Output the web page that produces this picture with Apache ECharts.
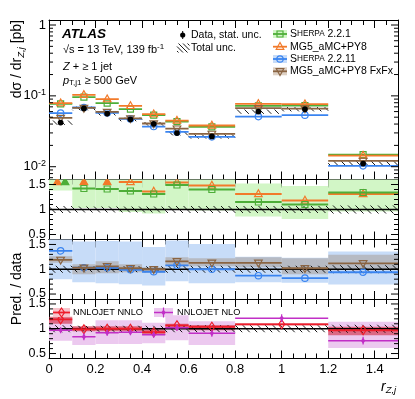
<!DOCTYPE html>
<html><head><meta charset="utf-8">
<script src="https://cdn.jsdelivr.net/npm/echarts@6/dist/echarts.min.js"></script>
<style>html,body{margin:0;padding:0;background:#fff}#c{width:415px;height:399px}</style>
</head><body><div id="c"></div>
<script>
// ---------------- data ----------------
const binEdges = [0, 0.1, 0.2, 0.3, 0.4, 0.5, 0.6, 0.8, 1.0, 1.2, 1.5];
const nnlojetEdges = [0, 0.1, 0.2, 0.3, 0.4, 0.5, 0.6, 0.8, 1.2, 1.5];

const dataXsec = [0.0420, 0.0665, 0.0562, 0.0466, 0.0403, 0.0298, 0.0268, 0.0600, 0.0649, 0.01107];
const dataStatRel = [0.03, 0.02, 0.02, 0.02, 0.02, 0.03, 0.03, 0.02, 0.02, 0.04];
const dataTotalRel = [0.07, 0.06, 0.06, 0.06, 0.06, 0.07, 0.07, 0.07, 0.07, 0.08];

const sherpa221Xsec = [0.0771, 0.0959, 0.0789, 0.0649, 0.0535, 0.0434, 0.0365, 0.0722, 0.0730, 0.01483];
const mg5Xsec = [0.0789, 0.1033, 0.0898, 0.0722, 0.0552, 0.0448, 0.0382, 0.0771, 0.0764, 0.01436];
const sherpa2211Xsec = [0.0570, 0.0685, 0.0575, 0.0473, 0.0369, 0.0310, 0.0264, 0.0510, 0.0534, 0.01028];
const fxfxXsec = [0.0489, 0.0675, 0.0594, 0.0481, 0.0407, 0.0345, 0.0291, 0.0670, 0.0662, 0.0121];

// ratio panel 1
const sherpa221Ratio = [1.83, 1.42, 1.41, 1.37, 1.31, 1.49, 1.40, 1.15, 1.10, 1.34];
const sherpa221Lo = [1.38, 1.03, 1.03, 0.95, 0.92, 1.00, 0.98, 0.86, 0.81, 0.96];
const sherpa221Hi = [1.95, 1.85, 1.85, 1.80, 1.75, 1.90, 1.75, 1.52, 1.47, 1.62];
const mg5Ratio = [1.88, 1.65, 1.63, 1.55, 1.36, 1.54, 1.48, 1.31, 1.18, 1.31];
// ratio panel 2
const sherpa2211Ratio = [1.37, 1.03, 1.03, 0.99, 0.95, 1.08, 1.00, 0.87, 0.82, 0.94];
const sherpa2211Lo = [0.80, 0.74, 0.72, 0.70, 0.67, 0.76, 0.72, 0.74, 0.73, 0.69];
const sherpa2211Hi = [1.70, 1.56, 1.57, 1.56, 1.45, 1.58, 1.51, 1.25, 1.23, 1.36];
const fxfxRatio = [1.19, 1.03, 1.06, 1.02, 1.00, 1.16, 1.13, 1.13, 1.02, 1.12];
const fxfxLo = [1.13, 0.90, 0.92, 0.94, 0.93, 1.06, 1.06, 1.04, 0.90, 0.99];
const fxfxHi = [1.26, 1.10, 1.16, 1.10, 1.04, 1.24, 1.22, 1.24, 1.22, 1.29];
// ratio panel 3 (NNLOJET binning)
const nnloRatio = [1.19, 0.99, 1.00, 1.00, 0.93, 1.07, 1.04, 1.09, 0.97];
const nnloLo = [1.10, 0.95, 0.95, 0.95, 0.88, 1.00, 0.97, 1.07, 0.87];
const nnloHi = [1.24, 1.05, 1.05, 1.05, 0.99, 1.10, 1.07, 1.11, 1.04];
const nloRatio = [0.97, 0.84, 0.92, 0.93, 0.88, 1.02, 0.91, 1.21, 0.76];
const nloStat = [0.06, 0.07, 0.06, 0.06, 0.06, 0.06, 0.07, 0.08, 0.08];
const nloLo = [0.76, 0.67, 0.69, 0.69, 0.71, 0.77, 0.67, null, 0.61];
const nloHi = [1.22, 1.04, 1.17, 1.17, 1.12, 1.27, 1.15, null, 1.14];

// tick labels
const xTickValues = [0, 0.2, 0.4, 0.6, 0.8, 1.0, 1.2, 1.4];
const xTickLabels = ['0', '0.2', '0.4', '0.6', '0.8', '1', '1.2', '1.4'];
const mainTickValues = [0.01, 0.1, 1];
const mainTickLabels = ['10^-2', '10^-1', '1'];
const ratioTickValues = [0.5, 1, 1.5];
const ratioTickLabels = ['0.5', '1', '1.5'];

// ---------------- style / layout ----------------
const FONT = '"Liberation Sans", Arial, Helvetica, sans-serif';
const C = {
  green: '#4dae38', greenBand: '#d2f6c6',
  orange: '#f27a2a',
  blue: '#3a84f0', blueBand: '#c7dcf8',
  brown: '#8a6442', brownBand: 'rgba(150,118,88,0.33)', brownLeg: '#ddd0c3',
  red: '#ee1c2a', redBand: 'rgba(205,25,45,0.55)', redLeg: '#f7c4cc',
  purple: '#c12fc6', purpleBand: '#ecc9ef'
};
const XMIN = 0, XMAX = 1.5;
const YMAIN = [0.0066, 1.177];
const YRAT = [0.4, 1.6];
const tops = [20, 179.5, 239.5, 299];
const heights = [159.5, 60, 59.5, 59.5];

function marker(kind, cx, cy, color, filled) {
  const st = { stroke: color, lineWidth: 1.2, fill: filled ? color : 'none' };
  switch (kind) {
    case 'square': return { type: 'rect', shape: { x: cx - 3, y: cy - 3, width: 6, height: 6 }, style: st };
    case 'circle': return { type: 'circle', shape: { cx, cy, r: 3.2 }, style: st };
    case 'triUp': return { type: 'polygon', shape: { points: [[cx, cy - 4.2], [cx - 3.8, cy + 2.6], [cx + 3.8, cy + 2.6]] }, style: st };
    case 'triDown': return { type: 'polygon', shape: { points: [[cx, cy + 4.2], [cx - 3.8, cy - 2.6], [cx + 3.8, cy - 2.6]] }, style: st };
    case 'diamond': return { type: 'polygon', shape: { points: [[cx, cy - 4.5], [cx + 3, cy], [cx, cy + 4.5], [cx - 3, cy]] }, style: st };
    case 'sdiamond': return { type: 'polygon', shape: { points: [[cx, cy - 3], [cx + 2.2, cy], [cx, cy + 3], [cx - 2.2, cy]] }, style: { fill: color } };
    case 'dot': return { type: 'circle', shape: { cx, cy, r: 2.9 }, style: { fill: color } };
  }
  return null;
}

function binItems(edges, cols) {
  const out = [];
  for (let i = 0; i < edges.length - 1; i++) {
    const row = [edges[i], edges[i + 1]];
    let ok = true;
    for (const c of cols) { if (c[i] == null) ok = false; row.push(c[i]); }
    row.push(i);
    if (ok) out.push(row);
  }
  return out;
}

function bandSeries(gi, edges, lo, hi, fill, z) {
  return {
    type: 'custom', xAxisIndex: gi * 2, yAxisIndex: gi * 2, clip: true, silent: true, z,
    data: binItems(edges, [lo, hi]), encode: { x: [0, 1], y: [2, 3] },
    renderItem(p, api) {
      const a = api.coord([api.value(0), api.value(3)]);
      const b = api.coord([api.value(1), api.value(2)]);
      return { type: 'rect', shape: { x: a[0], y: a[1], width: b[0] - a[0], height: b[1] - a[1] }, style: { fill } };
    }
  };
}

function hatchLines(x0, y0, w, h, step) {
  const lines = [];
  const cMin = Math.floor((y0 - (x0 + w)) / step) * step, cMax = y0 + h - x0;
  for (let c = cMin; c <= cMax; c += step) {
    const xa = Math.max(x0, y0 - c), xb = Math.min(x0 + w, y0 + h - c);
    if (xb > xa) lines.push({ type: 'line', shape: { x1: xa, y1: xa + c, x2: xb, y2: xb + c }, style: { stroke: '#000', lineWidth: 0.9 } });
  }
  return lines;
}

function hatchSeries(gi, edges, lo, hi, z) {
  return {
    type: 'custom', xAxisIndex: gi * 2, yAxisIndex: gi * 2, clip: true, silent: true, z,
    data: binItems(edges, [lo, hi]), encode: { x: [0, 1], y: [2, 3] },
    renderItem(p, api) {
      const a = api.coord([api.value(0), api.value(3)]);
      const b = api.coord([api.value(1), api.value(2)]);
      return { type: 'group', children: hatchLines(a[0], a[1], b[0] - a[0], b[1] - a[1], 7.5) };
    }
  };
}

function lineSeries(gi, edges, vals, color, mk, z, opt) {
  opt = opt || {};
  const err = opt.err || vals.map(() => 0);
  return {
    type: 'custom', xAxisIndex: gi * 2, yAxisIndex: gi * 2, clip: true, silent: true, z,
    data: binItems(edges, [vals, err]), encode: { x: [0, 1], y: 2 },
    renderItem(p, api) {
      const x0 = api.value(0), x1 = api.value(1), v = api.value(2), e = api.value(3), i = api.value(4);
      const xc = (x0 + x1) / 2, ch = [];
      if (opt.top != null && v > opt.top) {
        // out-of-range indicator: filled triangle near the top edge
        const dx = (opt.pair && opt.pair[i] > opt.top) ? opt.pairDx : 0;
        const q = api.coord([xc + dx, opt.arrowAt]);
        ch.push(marker('triUp', q[0], q[1], color, true));
        return { type: 'group', children: ch };
      }
      const a = api.coord([x0, v]), b = api.coord([x1, v]), c = api.coord([xc, v]);
      if (opt.lw !== 0) ch.push({ type: 'line', shape: { x1: a[0], y1: a[1], x2: b[0], y2: b[1] }, style: { stroke: color, lineWidth: opt.lw || 1.8 } });
      if (e > 0) {
        const u = api.coord([xc, v + e]), d = api.coord([xc, v - e]);
        ch.push({ type: 'line', shape: { x1: u[0], y1: u[1], x2: d[0], y2: d[1] }, style: { stroke: color, lineWidth: 1.2 } });
      }
      if (mk) ch.push(marker(mk, c[0], c[1], color, opt.filled));
      return { type: 'group', children: ch };
    }
  };
}

// y ticks on both frame sides
function yTickSeries(gi, majors, minors) {
  const data = majors.map(v => [0, v, 7]).concat(minors.map(v => [0, v, 4]));
  return {
    type: 'custom', xAxisIndex: gi * 2, yAxisIndex: gi * 2, silent: true, z: 30,
    data, encode: { x: 0, y: 1 },
    renderItem(p, api) {
      const v = api.value(1), len = api.value(2);
      const a = api.coord([XMIN, v]), b = api.coord([XMAX, v]);
      const st = { stroke: '#000', lineWidth: 1 };
      return { type: 'group', children: [
        { type: 'line', shape: { x1: a[0], y1: a[1], x2: a[0] + len, y2: a[1] }, style: st },
        { type: 'line', shape: { x1: b[0], y1: b[1], x2: b[0] - len, y2: b[1] }, style: st }
      ] };
    }
  };
}

// ---- derived helpers for tick positions ----
const mainMinor = [];
for (let e = -3; e <= 0; e++) for (let m = 2; m <= 9; m++) {
  const v = m * Math.pow(10, e);
  if (v > YMAIN[0] && v < YMAIN[1]) mainMinor.push(v);
}
const ratioMinor = [];
for (let k = 5; k <= 15; k++) {
  const v = k / 10;
  if (!ratioTickValues.some(t => Math.abs(t - v) < 1e-6)) ratioMinor.push(v);
}

// ---- axes ----
const axStyle = { color: '#000', width: 1 };
function xAxisDef(gi, pos) {
  const showLab = gi === 3 && pos === 'bottom';
  return {
    gridIndex: gi, type: 'value', min: XMIN, max: XMAX, interval: 0.2, position: pos,
    axisLine: { show: true, onZero: false, lineStyle: axStyle },
    axisTick: { show: true, inside: true, length: 8, lineStyle: axStyle },
    minorTick: { show: true, splitNumber: 4, length: 5, lineStyle: axStyle },
    splitLine: { show: false },
    axisLabel: showLab ? {
      show: true, fontSize: 13, color: '#000', fontFamily: FONT, margin: 4,
      formatter: v => { const i = xTickValues.findIndex(t => Math.abs(t - v) < 1e-6); return i >= 0 ? xTickLabels[i] : ''; }
    } : { show: false }
  };
}
function mainFmt(v) {
  const e = Math.log10(v);
  const i = mainTickValues.findIndex(t => Math.abs(Math.log10(t) - e) < 1e-3);
  if (i < 0) return '';
  const s = mainTickLabels[i];
  const k = s.indexOf('^');
  return k < 0 ? s : s.slice(0, k) + '{sup|' + s.slice(k + 1) + '}';
}
function yAxisDef(gi, pos) {
  const main = gi === 0;
  const base = {
    gridIndex: gi, position: pos,
    axisLine: { show: true, onZero: false, lineStyle: axStyle },
    axisTick: { show: false }, minorTick: { show: false }, splitLine: { show: false }
  };
  if (main) {
    Object.assign(base, { type: 'log', logBase: 10, min: YMAIN[0], max: YMAIN[1] });
  } else {
    Object.assign(base, { type: 'value', min: YRAT[0], max: YRAT[1], interval: 0.1 });
  }
  if (pos === 'left' && main) {
    base.axisLabel = {
      show: true, fontSize: 13, color: '#000', fontFamily: FONT, margin: 3, lineHeight: 16,
      showMinLabel: false, showMaxLabel: false, formatter: mainFmt,
      rich: { sup: { fontSize: 9, lineHeight: 9, verticalAlign: 'top', fontFamily: FONT, color: '#000' } }
    };
  } else base.axisLabel = { show: false };
  return base;
}

const xAxes = [], yAxes = [];
for (let g = 0; g < 4; g++) {
  xAxes.push(xAxisDef(g, 'bottom'), xAxisDef(g, 'top'));
  yAxes.push(yAxisDef(g, 'left'), yAxisDef(g, 'right'));
}

// ---- series ----
const dataLo = dataXsec.map((d, i) => d * (1 - dataTotalRel[i]));
const dataHi = dataXsec.map((d, i) => d * (1 + dataTotalRel[i]));
const dataStatAbs = dataXsec.map((d, i) => d * dataStatRel[i]);
const ratioLo = dataTotalRel.map(r => 1 - r);
const ratioHi = dataTotalRel.map(r => 1 + r);
const unityEdges = [XMIN, XMAX], unityVal = [1];

const series = [
  // main panel
  hatchSeries(0, binEdges, dataLo, dataHi, 2),
  lineSeries(0, binEdges, sherpa221Xsec, C.green, 'square', 3),
  lineSeries(0, binEdges, mg5Xsec, C.orange, 'triUp', 4),
  lineSeries(0, binEdges, sherpa2211Xsec, C.blue, 'circle', 5),
  lineSeries(0, binEdges, fxfxXsec, C.brown, 'triDown', 6),
  lineSeries(0, binEdges, dataXsec, '#000', 'dot', 8, { lw: 0, err: dataStatAbs }),
  yTickSeries(0, mainTickValues, mainMinor),
  // ratio 1
  bandSeries(1, binEdges, sherpa221Lo, sherpa221Hi, C.greenBand, 1),
  hatchSeries(1, binEdges, ratioLo, ratioHi, 2),
  lineSeries(1, unityEdges, unityVal, '#000', null, 3, { lw: 1.5 }),
  lineSeries(1, binEdges, mg5Ratio, C.orange, 'triUp', 4, { top: YRAT[1], arrowAt: 1.55, pair: sherpa221Ratio, pairDx: -0.014 }),
  lineSeries(1, binEdges, sherpa221Ratio, C.green, 'square', 5, { top: YRAT[1], arrowAt: 1.55, pair: mg5Ratio, pairDx: 0.019 }),
  yTickSeries(1, ratioTickValues, ratioMinor),
  // ratio 2
  bandSeries(2, binEdges, sherpa2211Lo, sherpa2211Hi, C.blueBand, 1),
  bandSeries(2, binEdges, fxfxLo, fxfxHi, C.brownBand, 2),
  hatchSeries(2, binEdges, ratioLo, ratioHi, 3),
  lineSeries(2, unityEdges, unityVal, '#000', null, 4, { lw: 1.5 }),
  lineSeries(2, binEdges, sherpa2211Ratio, C.blue, 'circle', 5),
  lineSeries(2, binEdges, fxfxRatio, C.brown, 'triDown', 6),
  yTickSeries(2, ratioTickValues, ratioMinor),
  // ratio 3
  bandSeries(3, nnlojetEdges, nloLo, nloHi, C.purpleBand, 1),
  bandSeries(3, nnlojetEdges, nnloLo, nnloHi, C.redBand, 2),
  hatchSeries(3, binEdges, ratioLo, ratioHi, 3),
  lineSeries(3, unityEdges, unityVal, '#000', null, 4, { lw: 1.5 }),
  lineSeries(3, nnlojetEdges, nnloRatio, C.red, 'diamond', 5),
  lineSeries(3, nnlojetEdges, nloRatio, C.purple, 'sdiamond', 6, { err: nloStat, lw: 1.5 }),
  yTickSeries(3, ratioTickValues, ratioMinor)
];

// ---- annotations & legends ----
function txt(x, y, text, extra) {
  return { type: 'text', x, y, z: 100, style: Object.assign({ text, fontSize: 11, fontFamily: FONT, fill: '#000', verticalAlign: 'middle' }, extra || {}) };
}
const legendRows = [
  { y: 34, label: '{a|S}{b|HERPA} 2.2.1', color: C.green, mk: 'square', band: C.greenBand },
  { y: 46.7, label: 'MG5_aMC+PY8', color: C.orange, mk: 'triUp', band: null },
  { y: 59, label: '{a|S}{b|HERPA} 2.2.11', color: C.blue, mk: 'circle', band: C.blueBand },
  { y: 71.3, label: 'MG5_aMC+PY8 FxFx', color: C.brown, mk: 'triDown', band: C.brownLeg }
];
const graphic = [];
legendRows.forEach(r => {
  if (r.band) graphic.push({ type: 'rect', z: 100, shape: { x: 273, y: r.y - 4, width: 14, height: 8 }, style: { fill: r.band } });
  graphic.push({ type: 'line', z: 100, shape: { x1: 273, y1: r.y, x2: 287, y2: r.y }, style: { stroke: r.color, lineWidth: 1.8 } });
  graphic.push(Object.assign(marker(r.mk, 280, r.y, r.color, false), { z: 101 }));
  graphic.push(txt(290, r.y, r.label, { fontSize: 10.5, lineHeight: 11, rich: { a: { fontSize: 10.5, fontFamily: FONT, lineHeight: 11 }, b: { fontSize: 8.2, fontFamily: FONT, lineHeight: 11 } } }));
});
// data legend
graphic.push({ type: 'line', z: 100, shape: { x1: 182.7, y1: 31, x2: 182.7, y2: 39 }, style: { stroke: '#000', lineWidth: 1 } });
graphic.push({ type: 'circle', z: 100, shape: { cx: 182.7, cy: 35, r: 2.6 }, style: { fill: '#000' } });
graphic.push(txt(191, 35, 'Data, stat. unc.', { fontSize: 10.5, lineHeight: 11 }));
graphic.push({ type: 'group', z: 100, children: hatchLines(177, 43.5, 12.5, 9, 4.5) });
graphic.push(txt(191, 48, 'Total unc.', { fontSize: 10.5, lineHeight: 11 }));
// NNLOJET legend
graphic.push({ type: 'rect', z: 100, shape: { x: 53, y: 308, width: 17, height: 9 }, style: { fill: C.redLeg } });
graphic.push({ type: 'line', z: 100, shape: { x1: 53, y1: 312.5, x2: 70, y2: 312.5 }, style: { stroke: C.red, lineWidth: 1.8 } });
graphic.push(Object.assign(marker('diamond', 61.5, 312.5, C.red, false), { z: 101 }));
graphic.push(txt(73, 312.5, 'NNLOJET NNLO', { fontSize: 9.2 }));
graphic.push({ type: 'rect', z: 100, shape: { x: 154, y: 308, width: 19, height: 9 }, style: { fill: C.purpleBand } });
graphic.push({ type: 'line', z: 100, shape: { x1: 154, y1: 312.5, x2: 173, y2: 312.5 }, style: { stroke: C.purple, lineWidth: 1.5 } });
graphic.push({ type: 'line', z: 100, shape: { x1: 163.5, y1: 307.5, x2: 163.5, y2: 317.5 }, style: { stroke: C.purple, lineWidth: 1.2 } });
graphic.push(Object.assign(marker('sdiamond', 163.5, 312.5, C.purple, true), { z: 101 }));
graphic.push(txt(177, 312.5, 'NNLOJET NLO', { fontSize: 9.2 }));
// ATLAS labels
graphic.push(txt(62, 34.5, 'ATLAS', { fontSize: 13.5, fontWeight: 'bold', fontStyle: 'italic', lineHeight: 13 }));
graphic.push(txt(63, 49.5, '√s = 13 TeV, 139 fb{sup|-1}', { lineHeight: 14, rich: { sup: { fontSize: 8, lineHeight: 8, verticalAlign: 'top', fontFamily: FONT } } }));
graphic.push(txt(63, 67, '{i|Z} + ≥ 1 jet', { lineHeight: 12, rich: { i: { fontSize: 11, fontStyle: 'italic', fontFamily: FONT, lineHeight: 12 } } }));
graphic.push(txt(63, 80.5, '{i|p}{s|T,j1} ≥ 500 GeV', { lineHeight: 13, rich: { i: { fontSize: 11, fontStyle: 'italic', fontFamily: FONT, lineHeight: 13 }, s: { fontSize: 8, lineHeight: 7, verticalAlign: 'bottom', fontFamily: FONT } } }));
// axis titles
graphic.push({ type: 'text', x: 17, y: 20, rotation: Math.PI / 2, z: 100, style: {
  text: 'dσ / dr{s|Z,j} [pb]', fontSize: 14, fontFamily: FONT, fill: '#000', align: 'right', verticalAlign: 'middle', lineHeight: 18,
  rich: { s: { fontSize: 9.5, fontStyle: 'italic', lineHeight: 10, verticalAlign: 'bottom', fontFamily: FONT } } } });
graphic.push({ type: 'text', x: 17, y: 289, rotation: Math.PI / 2, z: 100, style: {
  text: 'Pred. / data', fontSize: 14, fontFamily: FONT, fill: '#000', align: 'center', verticalAlign: 'middle' } });
graphic.push(txt(381, 387, '{r|r}{s|Z,j}', { lineHeight: 16, rich: {
  r: { fontSize: 14, fontStyle: 'italic', lineHeight: 16, fontFamily: FONT },
  s: { fontSize: 9.5, fontStyle: 'italic', lineHeight: 10, verticalAlign: 'bottom', fontFamily: FONT } } }));

const chart = echarts.init(document.getElementById('c'), null, { renderer: 'canvas' });
chart.setOption({
  animation: false,
  backgroundColor: '#fff',
  textStyle: { fontFamily: FONT },
  grid: tops.map((t, i) => ({ left: 49, right: 17, top: t, height: heights[i], show: false })),
  xAxis: xAxes,
  yAxis: yAxes,
  series,
  graphic
});

// ratio-panel y tick labels, placed through each panel's own y scale,
// drawn on their own top layer.
const ratioLabelEls = [];
for (let g = 1; g <= 3; g++) {
  ratioTickValues.forEach((v, i) => {
    const p = chart.convertToPixel({ xAxisIndex: g * 2, yAxisIndex: g * 2 }, [XMIN, v]);
    ratioLabelEls.push({ type: 'text', x: p[0] - 3, y: p[1], z: 120, zlevel: 3, style: {
      text: ratioTickLabels[i], align: 'right', verticalAlign: 'middle', fontSize: 12.5, lineHeight: 9,
      fontFamily: FONT, fill: '#000' } });
  });
}
chart.setOption({ graphic: graphic.concat(ratioLabelEls) });
</script></body></html>
